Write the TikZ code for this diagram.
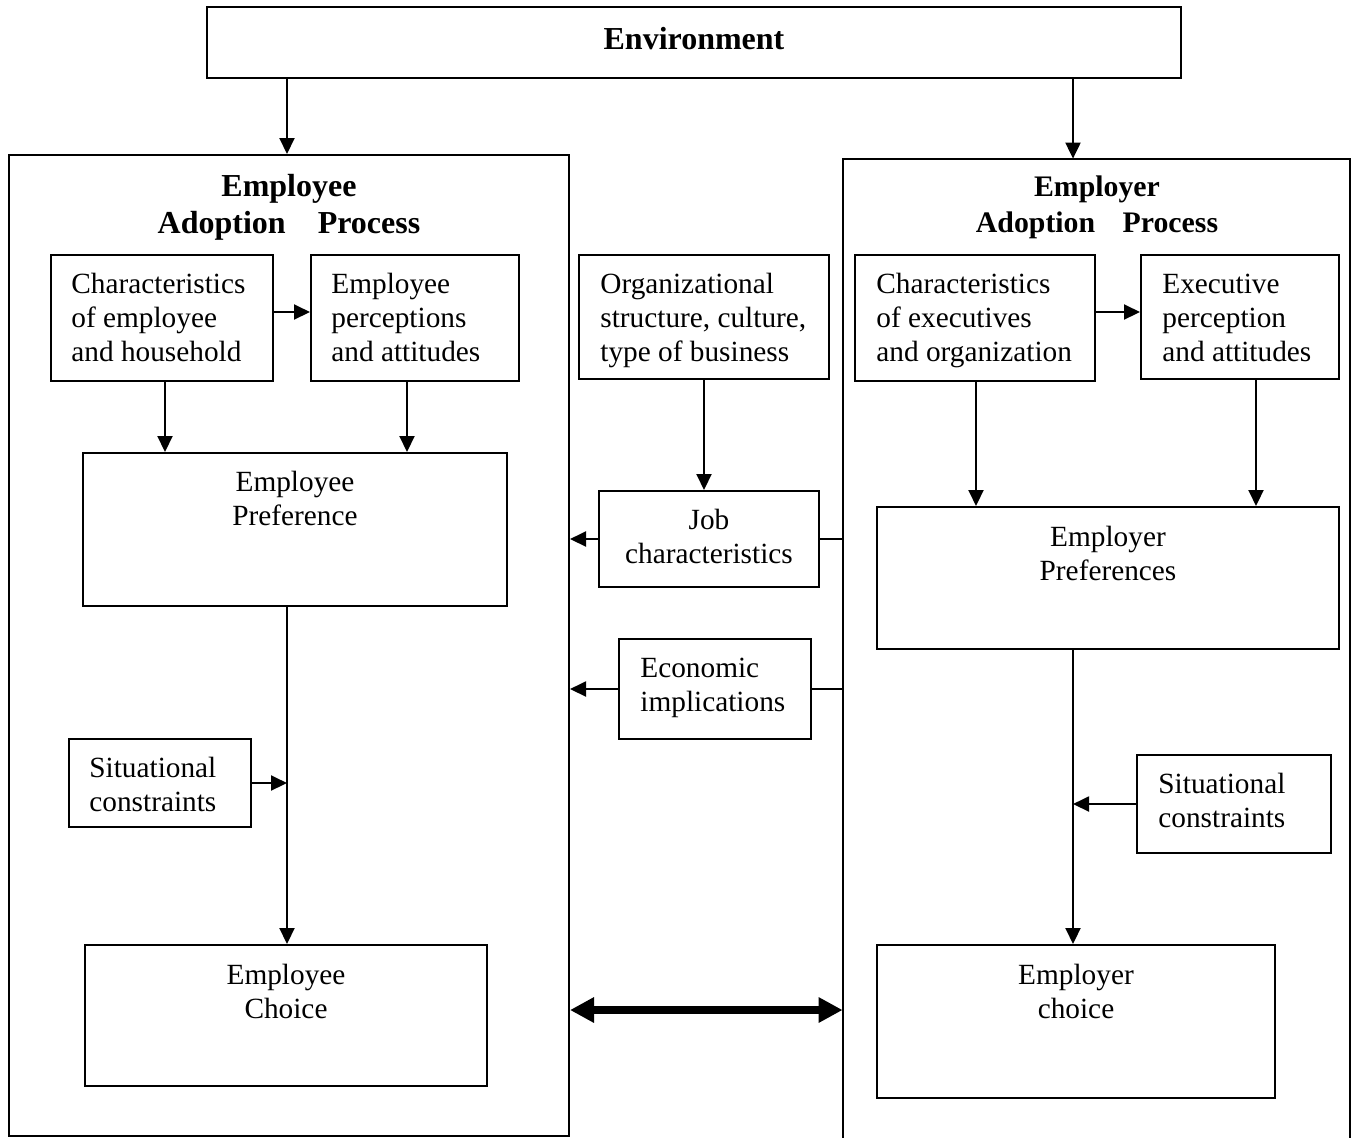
\documentclass[tikz,border=0pt]{standalone}
\usepackage{fontspec}
\setmainfont{Liberation Serif}
\usetikzlibrary{arrows.meta}
\begin{document}
\begin{tikzpicture}[x=0.5pt,y=-0.5pt,
  frame/.style={draw,line width=1pt,inner sep=0pt},
  txt/.style={inner sep=0pt,font=\fontsize{14.65pt}{17pt}\selectfont},
  ttl/.style={inner sep=0pt,align=center,font=\fontsize{16pt}{18.5pt}\selectfont\bfseries},
  ttlsmall/.style={inner sep=0pt,align=center,font=\fontsize{14.9pt}{18pt}\selectfont\bfseries},
  arr/.style={line width=1pt,-{Triangle[length=8pt,width=7.5pt]}},
  link/.style={line width=1pt},
  bigarr/.style={line width=3.6pt,{Triangle[length=12pt,width=12pt]}-{Triangle[length=12pt,width=12pt]}}]
\useasboundingbox (0,0) rectangle (1353,1137);

% helper positions for connectors
\coordinate (xa) at (287,0);
\coordinate (xb) at (1073,0);
\coordinate (x165) at (165,0);
\coordinate (x407) at (407,0);
\coordinate (x704) at (704,0);
\coordinate (x976) at (976,0);
\coordinate (x1256) at (1256,0);
\coordinate (y312) at (0,312);
\coordinate (y1010) at (0,1010);

% environment
\node[frame,minimum width=487pt,minimum height=35.5pt] (env) at (694,42.5) {};
\node[ttl] (envt) at (694,39) {Environment};

% the two adoption processes
\node[frame,minimum width=280pt,minimum height=490.5pt] (L) at (289,645.5) {};
\node[ttl] (Lt) at (289,207.5) {Employee\\Adoption\hspace{12pt} Process};
\path[draw,line width=1pt] (843,1150) -- (843,159) -- (1350,159) -- (1350,1150);
\node[inner sep=0pt,minimum width=253.5pt,minimum height=495.5pt] (R) at (1096.5,654.5) {};
\node[ttlsmall] (Rt) at (1097,207.5) {Employer\\Adoption\hspace{10pt} Process};

% employee side
\node[frame,minimum width=111pt,minimum height=63pt] (A1) at (162,318) {};
\node[txt,anchor=west,align=left] (A1t) at (71,317) {Characteristics\\of employee\\and household};
\node[frame,minimum width=104pt,minimum height=63pt] (A2) at (415,318) {};
\node[txt,anchor=west,align=left] (A2t) at (331,317) {Employee\\perceptions\\and attitudes};
\node[frame,minimum width=212pt,minimum height=76.5pt] (A3) at (295,529.5) {};
\node[txt,align=center] (A3t) at (295,498) {Employee\\Preference};
\node[frame,minimum width=91pt,minimum height=44pt] (A5) at (160,783) {};
\node[txt,anchor=west,align=left] (A5t) at (89,784) {Situational\\constraints};
\node[frame,minimum width=201pt,minimum height=70.5pt] (A4) at (286,1015.5) {};
\node[txt,align=center] (A4t) at (286,991) {Employee\\Choice};

% middle column
\node[frame,minimum width=125pt,minimum height=62pt] (M1) at (704,317) {};
\node[txt,anchor=west,align=left] (M1t) at (600,320) {Organizational\\structure, culture,\\type of business};
\node[frame,minimum width=110pt,minimum height=48pt] (M2) at (709,539) {};
\node[txt,align=center] (M2t) at (709,536) {Job\\characteristics};
\node[frame,minimum width=96pt,minimum height=50pt] (M3) at (715,689) {};
\node[txt,anchor=west,align=left] (M3t) at (640,688) {Economic\\implications};

% employer side
\node[frame,minimum width=120pt,minimum height=63pt] (B1) at (975,318) {};
\node[txt,anchor=west,align=left] (B1t) at (876,320) {Characteristics\\of executives\\and organization};
\node[frame,minimum width=99pt,minimum height=62pt] (B2) at (1240,317) {};
\node[txt,anchor=west,align=left] (B2t) at (1162,318) {Executive\\perception\\and attitudes};
\node[frame,minimum width=231pt,minimum height=71pt] (B3) at (1108,578) {};
\node[txt,align=center] (B3t) at (1108,553) {Employer\\Preferences};
\node[frame,minimum width=97pt,minimum height=49pt] (B5) at (1234,804) {};
\node[txt,anchor=west,align=left] (B5t) at (1158,800) {Situational\\constraints};
\node[frame,minimum width=199pt,minimum height=76.5pt] (B4) at (1076,1021.5) {};
\node[txt,align=center] (B4t) at (1076,991) {Employer\\choice};

% connectors
\draw[arr] (env.south -| xa) -- (L.north -| xa);
\draw[arr] (env.south -| xb) -- (R.north -| xb);
\draw[arr] (A1.east |- y312) -- (A2.west |- y312);
\draw[arr] (B1.east |- y312) -- (B2.west |- y312);
\draw[arr] (A1.south -| x165) -- (A3.north -| x165);
\draw[arr] (A2.south -| x407) -- (A3.north -| x407);
\draw[arr] (M1.south -| x704) -- (M2.north -| x704);
\draw[arr] (M2.west) -- (L.east |- M2.west);
\draw[link] (M2.east) -- (R.west |- M2.east);
\draw[arr] (M3.west) -- (L.east |- M3.west);
\draw[link] (M3.east) -- (R.west |- M3.east);
\draw[arr] (B1.south -| x976) -- (B3.north -| x976);
\draw[arr] (B2.south -| x1256) -- (B3.north -| x1256);
\draw[arr] (A3.south -| xa) -- (A4.north -| xa);
\draw[arr] (A5.east) -- (A5.east -| xa);
\draw[arr] (B3.south -| xb) -- (B4.north -| xb);
\draw[arr] (B5.west) -- (B5.west -| xb);
\draw[bigarr] (L.east |- y1010) -- (R.west |- y1010);
\end{tikzpicture}
\end{document}
